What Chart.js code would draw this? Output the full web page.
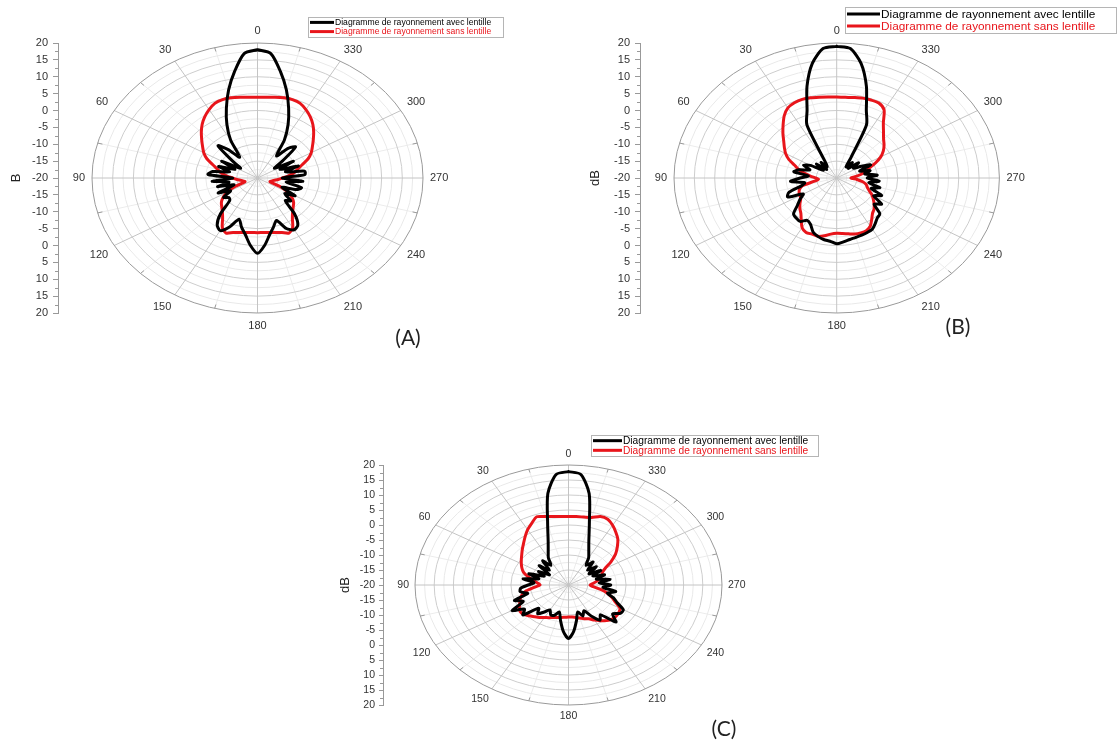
<!DOCTYPE html>
<html><head><meta charset="utf-8">
<script src="https://cdn.jsdelivr.net/npm/chart.js@4.4.0/dist/chart.umd.min.js"></script>
<style>
html,body{margin:0;padding:0;background:#fff;width:1118px;height:742px;overflow:hidden;}
canvas{position:absolute;}
.lab{position:absolute;font-family:Lato,'Open Sans',sans-serif;font-size:21px;color:#222;transform:translate(-50%,-50%);}
</style></head><body>
<canvas id="cA" width="510" height="330" style="left:0;top:0"></canvas>
<canvas id="cB" width="538" height="330" style="left:580px;top:0"></canvas>
<canvas id="cC" width="520" height="300" style="left:330px;top:425px"></canvas>
<div class="lab" style="left:408px;top:336px">(A)</div>
<div class="lab" style="left:958px;top:325px">(B)</div>
<div class="lab" style="left:724px;top:727px">(C)</div>
<script>
// ---- data ----
const angles = Array.from({length:72}, (_, i) => i * 5); // degrees 0..355
const angleLabels = [0,30,60,90,120,150,180,210,240,270,300,330];
const radialTickLabels = ['20','15','10','5','0','-5','-10','-15','-20','-15','-10','-5','0','5','10','15','20'];
const radialMin = -20;
const seriesNames = ['Diagramme de rayonnement avec lentille','Diagramme de rayonnement sans lentille'];

const aAvec = [18,17,12,7,2,-2.5,-7,-12.5,-9,-6.5,-12,-15,-10,-14,-10,-13,-9,-8,-14,-9,-13,-10,-14,-9.5,-12.5,-10,-11,-10.5,-6,-3,-2,-4,-7,-5,-3,0,
  2.3,0,-3,-5,-6.6,-3.5,-2.3,-3,-6,-10.5,-9.5,-12,-9.5,-13.5,-10,-9,-13,-9,-14,-8.5,-8.4,-13,-9.5,-14,-10,-15,-12,-7,-8.5,-12,-7,-2.5,2,7,12,17];
const aSans = [3.9,4.0,4.3,4.6,4.7,4.4,3.4,2.2,0.8,-0.8,-2.4,-3.8,-5,-6.5,-8.5,-10,-11,-12.5,-14,-15,-16,-16.5,-16.8,-14,-11.5,-9.8,-8.6,-7.8,-6.8,-5.3,-3,-2,-2.8,-3.3,-3.6,-3.8,
  -3.8,-3.8,-3.6,-3.3,-2.8,-2,-3,-5.3,-6.8,-7.8,-8.6,-9.8,-11.5,-14,-16.8,-16.5,-16,-15,-14,-12.5,-11,-10,-8.5,-6.5,-5,-3.8,-2.4,-0.8,0.8,2.2,3.4,4.4,4.7,4.6,4.3,4.0];
const bAvec = [19,18.5,14.5,8.2,1.3,-2.7,-14,-16,-14,-16.5,-13.5,-16,-12.5,-11,-13,-10.5,-9.3,-13,-11,-8.6,-12,-11,-7.5,-6.7,-10.5,-9,-7.4,-5,-4.5,-4.3,-5.5,-4.8,-3,-2.1,-1.5,-1.2,
  -0.5,-1,-1.5,-1.8,-2,-2.2,-2.5,-3.5,-4.5,-5,-8,-6.5,-9.5,-7.8,-11,-9,-12,-9.5,-12.5,-10,-13,-11.5,-14,-10.8,-13,-15,-13,-16,-14,-16,-13,-2.7,1.3,8.2,14.5,18.5];
const bSans = [4,4.1,4.3,4.6,4.8,4.6,4.0,2.5,0.5,-1.3,-3,-4.3,-5.5,-7,-9,-10.3,-12,-13.5,-14.8,-15.5,-14.5,-11.3,-10.3,-9.8,-9.6,-9.2,-8.2,-7.2,-6.3,-4.8,-3,-2.2,-2.3,-2.1,-2.6,-3.3,
  -3.6,-3.5,-3.2,-2.8,-2.7,-2.8,-3.5,-5,-6.3,-7,-8,-9,-10,-11.2,-12,-12.5,-13.5,-15,-16.5,-15.5,-14,-12.8,-11.5,-9.5,-7.5,-6,-4.8,-3.7,-2.1,0,3.3,4.5,4.6,4.5,4.2,4.0];
const cAvec = [17.8,17,11,1,-4.5,-7.5,-9.5,-12,-9.5,-13,-10,-14,-11,-13,-9,-12,-8,-11,-9.5,-7.5,-7.2,-9,-5,-7,-3,-6,-4.5,-9,-7.5,-9,-10.4,-9,-9.2,-10.7,-8,-4.5,
  -2.2,-4.5,-8,-10.7,-9,-10.5,-8,-5.7,-7,-2.5,-5,-3.5,-3.5,-6,-7.5,-9.5,-7.5,-11,-9,-12,-9,-12.5,-10,-13,-10.3,-13.5,-10.5,-13,-10,-12,-9.5,-7.5,-4.5,1,11,17];
const cSans = [2.8,2.9,3.15,3.6,4.2,2.7,1.3,-0.3,-1.8,-3,-4.1,-5,-5.8,-6.6,-7.5,-9,-10.5,-11.8,-12.6,-11,-8.8,-7.5,-6.6,-6,-5.2,-4.6,-4.7,-5.5,-6.2,-6.8,-7.5,-8,-8.5,-8.8,-9,-9.2,
  -9.3,-9.3,-9,-8.6,-8,-7.6,-6.5,-5.5,-4.5,-3.9,-3.8,-4,-4.5,-6.5,-8,-9.5,-11.5,-13.5,-14.4,-13.5,-12.5,-11.5,-10.8,-10.3,-9,-6.5,-4,-2,0,1.5,3,4.2,4.3,3.3,3,2.9];

// ---- helpers ----
function toXY(vals){
  const pts = angles.map((a,i)=>{
    const r = Math.max(0, vals[i] - radialMin);
    const t = a*Math.PI/180;
    return {x: -r*Math.sin(t), y: r*Math.cos(t)};
  });
  pts.push(pts[0]);
  return pts;
}
const FONT = "'Liberation Sans', Arial, sans-serif";

const polarPlugin = {
  id: 'polarGrid',
  beforeDatasetsDraw(chart, args, o){
    const {ctx, scales:{x, y}} = chart;
    const cx = x.getPixelForValue(0), cy = y.getPixelForValue(0);
    const kx = x.getPixelForValue(1) - cx, ky = cy - y.getPixelForValue(1);
    ctx.save();
    ctx.lineWidth = 1;
    for (let a = 15; a < 360; a += 30){
      const t = a*Math.PI/180;
      ctx.strokeStyle = '#ececec';
      ctx.beginPath(); ctx.moveTo(cx, cy); ctx.lineTo(cx - 40*kx*Math.sin(t), cy - 40*ky*Math.cos(t)); ctx.stroke();
    }
    for (let r = 2.5; r < 40; r += 5){
      ctx.strokeStyle = '#e9e9e9';
      ctx.beginPath(); ctx.ellipse(cx, cy, r*kx, r*ky, 0, 0, Math.PI*2); ctx.stroke();
    }
    for (let r = 5; r < 40; r += 5){
      ctx.strokeStyle = '#cdcdcd';
      ctx.beginPath(); ctx.ellipse(cx, cy, r*kx, r*ky, 0, 0, Math.PI*2); ctx.stroke();
    }
    for (let a = 0; a < 360; a += 30){
      const t = a*Math.PI/180;
      ctx.strokeStyle = '#c4c4c4';
      ctx.beginPath(); ctx.moveTo(cx, cy); ctx.lineTo(cx - 40*kx*Math.sin(t), cy - 40*ky*Math.cos(t)); ctx.stroke();
    }
    ctx.strokeStyle = '#9a9a9a';
    ctx.beginPath(); ctx.ellipse(cx, cy, 40*kx, 40*ky, 0, 0, Math.PI*2); ctx.stroke();
    for (let a = 15; a < 360; a += 30){
      const t = a*Math.PI/180;
      ctx.beginPath();
      ctx.moveTo(cx - 40*kx*Math.sin(t), cy - 40*ky*Math.cos(t));
      ctx.lineTo(cx - 38.8*kx*Math.sin(t), cy - 38.8*ky*Math.cos(t));
      ctx.stroke();
    }
    ctx.restore();
  },
  afterDraw(chart, args, o){
    const {ctx, scales:{x, y}} = chart;
    const cx = x.getPixelForValue(0), cy = y.getPixelForValue(0);
    const kx = x.getPixelForValue(1) - cx, ky = cy - y.getPixelForValue(1);
    ctx.save();
    ctx.font = o.angleFont + 'px ' + FONT;
    ctx.fillStyle = '#333';
    angleLabels.forEach(a=>{
      const t = a*Math.PI/180, s = Math.sin(t), c = Math.cos(t);
      const ex = cx - 40*kx*s, ey = cy - 40*ky*c;
      const g = o.gap;
      ctx.textAlign = s > 0.01 ? 'right' : (s < -0.01 ? 'left' : 'center');
      ctx.textBaseline = c > 0.01 ? 'bottom' : (c < -0.01 ? 'top' : 'middle');
      ctx.fillText(String(a), ex - s*g, ey - c*g);
    });
    ctx.strokeStyle = '#999'; ctx.lineWidth = 1;
    const ax = chart.chartArea.left;
    for (let v = -37.5; v < 40; v += 5){
      const py = Math.round(y.getPixelForValue(v)) + 0.5;
      ctx.beginPath(); ctx.moveTo(ax - 3, py); ctx.lineTo(ax, py); ctx.stroke();
    }
    const L = o.legend;
    ctx.fillStyle = '#fff'; ctx.fillRect(L.x, L.y, L.w, L.h);
    ctx.strokeStyle = '#b5b5b5'; ctx.lineWidth = 1;
    ctx.strokeRect(L.x + 0.5, L.y + 0.5, L.w, L.h);
    ctx.font = L.font + 'px ' + FONT;
    ctx.textAlign = 'left'; ctx.textBaseline = 'middle';
    chart.data.datasets.forEach((ds, i)=>{
      const ry = L.y + L.h*(i === 0 ? 0.27 : 0.73);
      ctx.strokeStyle = ds.borderColor; ctx.lineWidth = 3;
      ctx.beginPath(); ctx.moveTo(L.x + 2, ry); ctx.lineTo(L.x + 2 + L.line, ry); ctx.stroke();
      ctx.fillStyle = ds.borderColor;
      ctx.fillText(ds.label, L.x + 3 + L.line, ry + 0.5);
    });
    ctx.restore();
  }
};

function makeChart(id, avec, sans, cfg){
  const k = cfg.rx / 40;
  const rightPx = cfg.cx + cfg.rx + 4;
  new Chart(document.getElementById(id), {
    type: 'scatter',
    data: {
      datasets: [
        {label: seriesNames[0], data: toXY(avec), borderColor: '#000000', backgroundColor: '#000000'},
        {label: seriesNames[1], data: toXY(sans), borderColor: '#e8151b', backgroundColor: '#e8151b'}
      ]
    },
    options: {
      responsive: false, animation: false,
      layout: {padding: {left: 0, top: cfg.top, right: cfg.w - rightPx, bottom: cfg.h - cfg.bottom}},
      datasets: {scatter: {showLine: true, pointRadius: 0, borderWidth: cfg.lw, tension: 0.25, borderJoinStyle: 'round', borderCapStyle: 'round'}},
      scales: {
        x: {type: 'linear', display: false, min: -(cfg.cx - cfg.axisX)/k, max: (rightPx - cfg.cx)/k},
        y: {
          type: 'linear', min: -40, max: 40,
          afterFit: s => { s.width = cfg.axisX; },
          ticks: {stepSize: 5, autoSkip: false, padding: cfg.tickPad, color: '#333',
                  font: {family: FONT, size: cfg.tickFont},
                  callback: (v, i) => radialTickLabels[i]},
          grid: {drawOnChartArea: false, tickLength: cfg.tickLen, color: '#999'},
          border: {display: true, color: '#999'},
          title: {display: true, text: cfg.title, color: '#222', font: {family: FONT, size: 13}, padding: {top: cfg.titlePad, bottom: 0}}
        }
      },
      plugins: {
        legend: {display: false}, tooltip: {enabled: false},
        polarGrid: {angleFont: cfg.angleFont, gap: cfg.gap, legend: cfg.legend}
      }
    },
    plugins: [polarPlugin]
  });
}

makeChart('cA', aAvec, aSans, {w:510, h:330, axisX:58, cx:257.5, rx:165.5, top:43, bottom:313, title:'B', titlePad:9,
  tickFont:11, tickLen:5, tickPad:5, angleFont:11, gap:7, lw:3,
  legend:{x:308, y:17, w:195, h:20, font:8.6, line:24}});
makeChart('cB', bAvec, bSans, {w:538, h:330, axisX:60, cx:256.7, rx:162.7, top:43, bottom:313, title:'dB', titlePad:8,
  tickFont:11, tickLen:5, tickPad:5, angleFont:11, gap:7, lw:3,
  legend:{x:265, y:7, w:271, h:26, font:11.8, line:33}});
makeChart('cC', cAvec, cSans, {w:520, h:300, axisX:53, cx:238.5, rx:153.5, top:40, bottom:280, title:'dB', titlePad:8,
  tickFont:10.5, tickLen:4, tickPad:4, angleFont:10.5, gap:6, lw:3,
  legend:{x:261, y:10, w:227, h:21, font:10.2, line:29}});
</script>
</body></html>
